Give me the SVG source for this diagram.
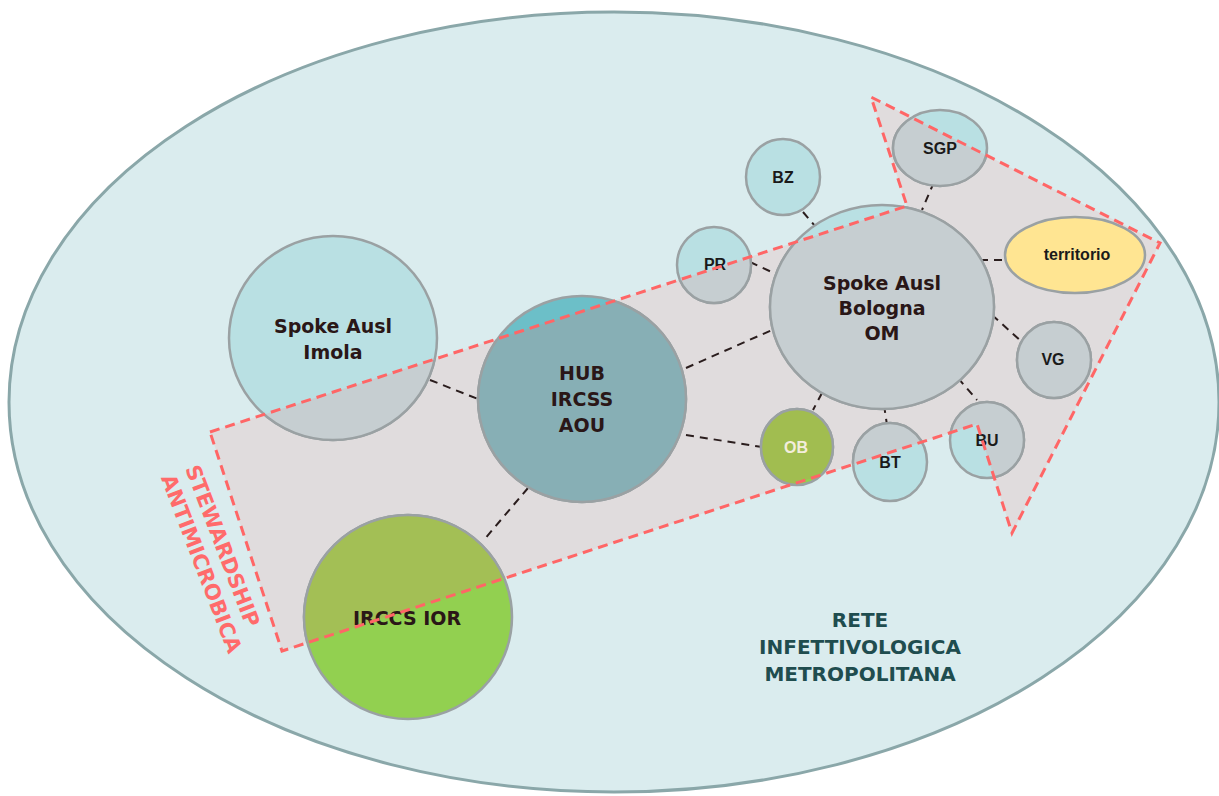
<svg xmlns="http://www.w3.org/2000/svg" width="1219" height="796" viewBox="0 0 1219 796">
<defs>
<clipPath id="arrowClip"><polygon points="210,432 907,206 871,97 1160,243 1012,533 977,424 282,651"/></clipPath>
<style>
.node{stroke:#9aa1a3;stroke-width:2.5}
.lb{fill:#b9e0e3}
.lbi{fill:#c6ced1}
.big{font-family:"DejaVu Sans",sans-serif;font-weight:bold;font-size:19px;fill:#2a1717;text-anchor:middle}
.small{font-family:"Liberation Sans",Arial,sans-serif;font-weight:bold;font-size:16px;fill:#1a1a1a;text-anchor:middle}
.conn line{stroke:#2a1d1d;stroke-width:2;stroke-dasharray:8 6}
.red{font-family:"DejaVu Sans",sans-serif;font-weight:bold;font-size:21px;fill:#ff6b6b}
.rete{font-family:"DejaVu Sans",sans-serif;font-weight:bold;font-size:20px;fill:#1f4d4f;text-anchor:middle}
</style>
</defs>
<rect width="1219" height="796" fill="#ffffff"/>
<ellipse id="rete-bg" cx="614" cy="402" rx="605" ry="390" fill="#daecee" stroke="#8aa7a9" stroke-width="3"/>
<polygon id="arrow-fill" points="210,432 907,206 871,97 1160,243 1012,533 977,424 282,651" fill="#e0dcdd"/>
<g id="connectors" class="conn">
<line x1="430" y1="380" x2="478" y2="399"/>
<line x1="528" y1="488" x2="483" y2="541"/>
<line x1="686" y1="368" x2="772" y2="330"/>
<line x1="686" y1="435" x2="762" y2="447"/>
<line x1="803" y1="212" x2="815" y2="226"/>
<line x1="750" y1="262" x2="776" y2="274"/>
<line x1="934" y1="182" x2="922" y2="210"/>
<line x1="980" y1="260" x2="1006" y2="260"/>
<line x1="992" y1="315" x2="1022" y2="342"/>
<line x1="958" y1="378" x2="977" y2="400"/>
<line x1="884" y1="405" x2="887" y2="425"/>
<line x1="822" y1="393" x2="813" y2="410"/>
</g>
<g id="imola">
<ellipse class="node lb" cx="333" cy="338" rx="104" ry="102"/>
<ellipse class="node lbi" cx="333" cy="338" rx="104" ry="102" clip-path="url(#arrowClip)"/>
<text class="big" x="333" y="333">Spoke Ausl</text>
<text class="big" x="333" y="359">Imola</text>
</g>
<g id="hub">
<ellipse class="node" fill="#6cbfc8" cx="582" cy="399" rx="104" ry="103"/>
<ellipse class="node" fill="#87afb5" cx="582" cy="399" rx="104" ry="103" clip-path="url(#arrowClip)"/>
<text class="big" x="582" y="380">HUB</text>
<text class="big" x="582" y="406">IRCSS</text>
<text class="big" x="582" y="432">AOU</text>
</g>
<g id="ior">
<ellipse class="node" fill="#92d050" cx="408" cy="617" rx="104" ry="102"/>
<ellipse class="node" fill="#a3bf55" cx="408" cy="617" rx="104" ry="102" clip-path="url(#arrowClip)"/>
<text class="big" x="407" y="625">IRCCS IOR</text>
</g>
<g id="bologna">
<ellipse class="node lb" cx="882" cy="307" rx="112" ry="102"/>
<ellipse class="node lbi" cx="882" cy="307" rx="112" ry="102" clip-path="url(#arrowClip)"/>
<text class="big" x="882" y="290">Spoke Ausl</text>
<text class="big" x="882" y="315">Bologna</text>
<text class="big" x="882" y="340">OM</text>
</g>
<g id="sgp">
<ellipse class="node lb" cx="940" cy="148" rx="47" ry="38"/>
<ellipse class="node lbi" cx="940" cy="148" rx="47" ry="38" clip-path="url(#arrowClip)"/>
<text class="small" x="940" y="154">SGP</text>
</g>
<g id="bz">
<ellipse class="node lb" cx="783" cy="177" rx="37" ry="38"/>
<text class="small" x="783" y="183">BZ</text>
</g>
<g id="pr">
<ellipse class="node lb" cx="714" cy="265" rx="37" ry="38"/>
<ellipse class="node lbi" cx="714" cy="265" rx="37" ry="38" clip-path="url(#arrowClip)"/>
<text class="small" x="715" y="270">PR</text>
</g>
<g id="territorio">
<ellipse class="node" fill="#ffe592" cx="1075" cy="255" rx="70" ry="38"/>
<text class="small" x="1077" y="260">territorio</text>
</g>
<g id="vg">
<ellipse class="node lb" cx="1054" cy="360" rx="37" ry="38"/>
<ellipse class="node lbi" cx="1054" cy="360" rx="37" ry="38" clip-path="url(#arrowClip)"/>
<text class="small" x="1053" y="365">VG</text>
</g>
<g id="bu">
<ellipse class="node lb" cx="987" cy="440" rx="37" ry="38"/>
<ellipse class="node lbi" cx="987" cy="440" rx="37" ry="38" clip-path="url(#arrowClip)"/>
<text class="small" x="987" y="446">BU</text>
</g>
<g id="bt">
<ellipse class="node lb" cx="890" cy="462" rx="37" ry="39"/>
<ellipse class="node lbi" cx="890" cy="462" rx="37" ry="39" clip-path="url(#arrowClip)"/>
<text class="small" x="890" y="468">BT</text>
</g>
<g id="ob">
<ellipse class="node" fill="#92d050" cx="797" cy="447" rx="36" ry="38"/>
<ellipse class="node" fill="#a1bd50" cx="797" cy="447" rx="36" ry="38" clip-path="url(#arrowClip)"/>
<text class="small" x="796" y="453" style="fill:#f3eddb">OB</text>
</g>
<polygon id="arrow-outline" points="210,432 907,206 871,97 1160,243 1012,533 977,424 282,651" fill="none" stroke="#ff6666" stroke-width="3" stroke-dasharray="10 6"/>
<g id="stewardship" transform="translate(199,463) rotate(69)">
<text class="red" x="0" y="15">STEWARDSHIP</text>
<text class="red" x="0" y="41">ANTIMICROBICA</text>
</g>
<g id="rete-label">
<text class="rete" x="860" y="627">RETE</text>
<text class="rete" x="860" y="654">INFETTIVOLOGICA</text>
<text class="rete" x="860" y="681">METROPOLITANA</text>
</g>
</svg>
